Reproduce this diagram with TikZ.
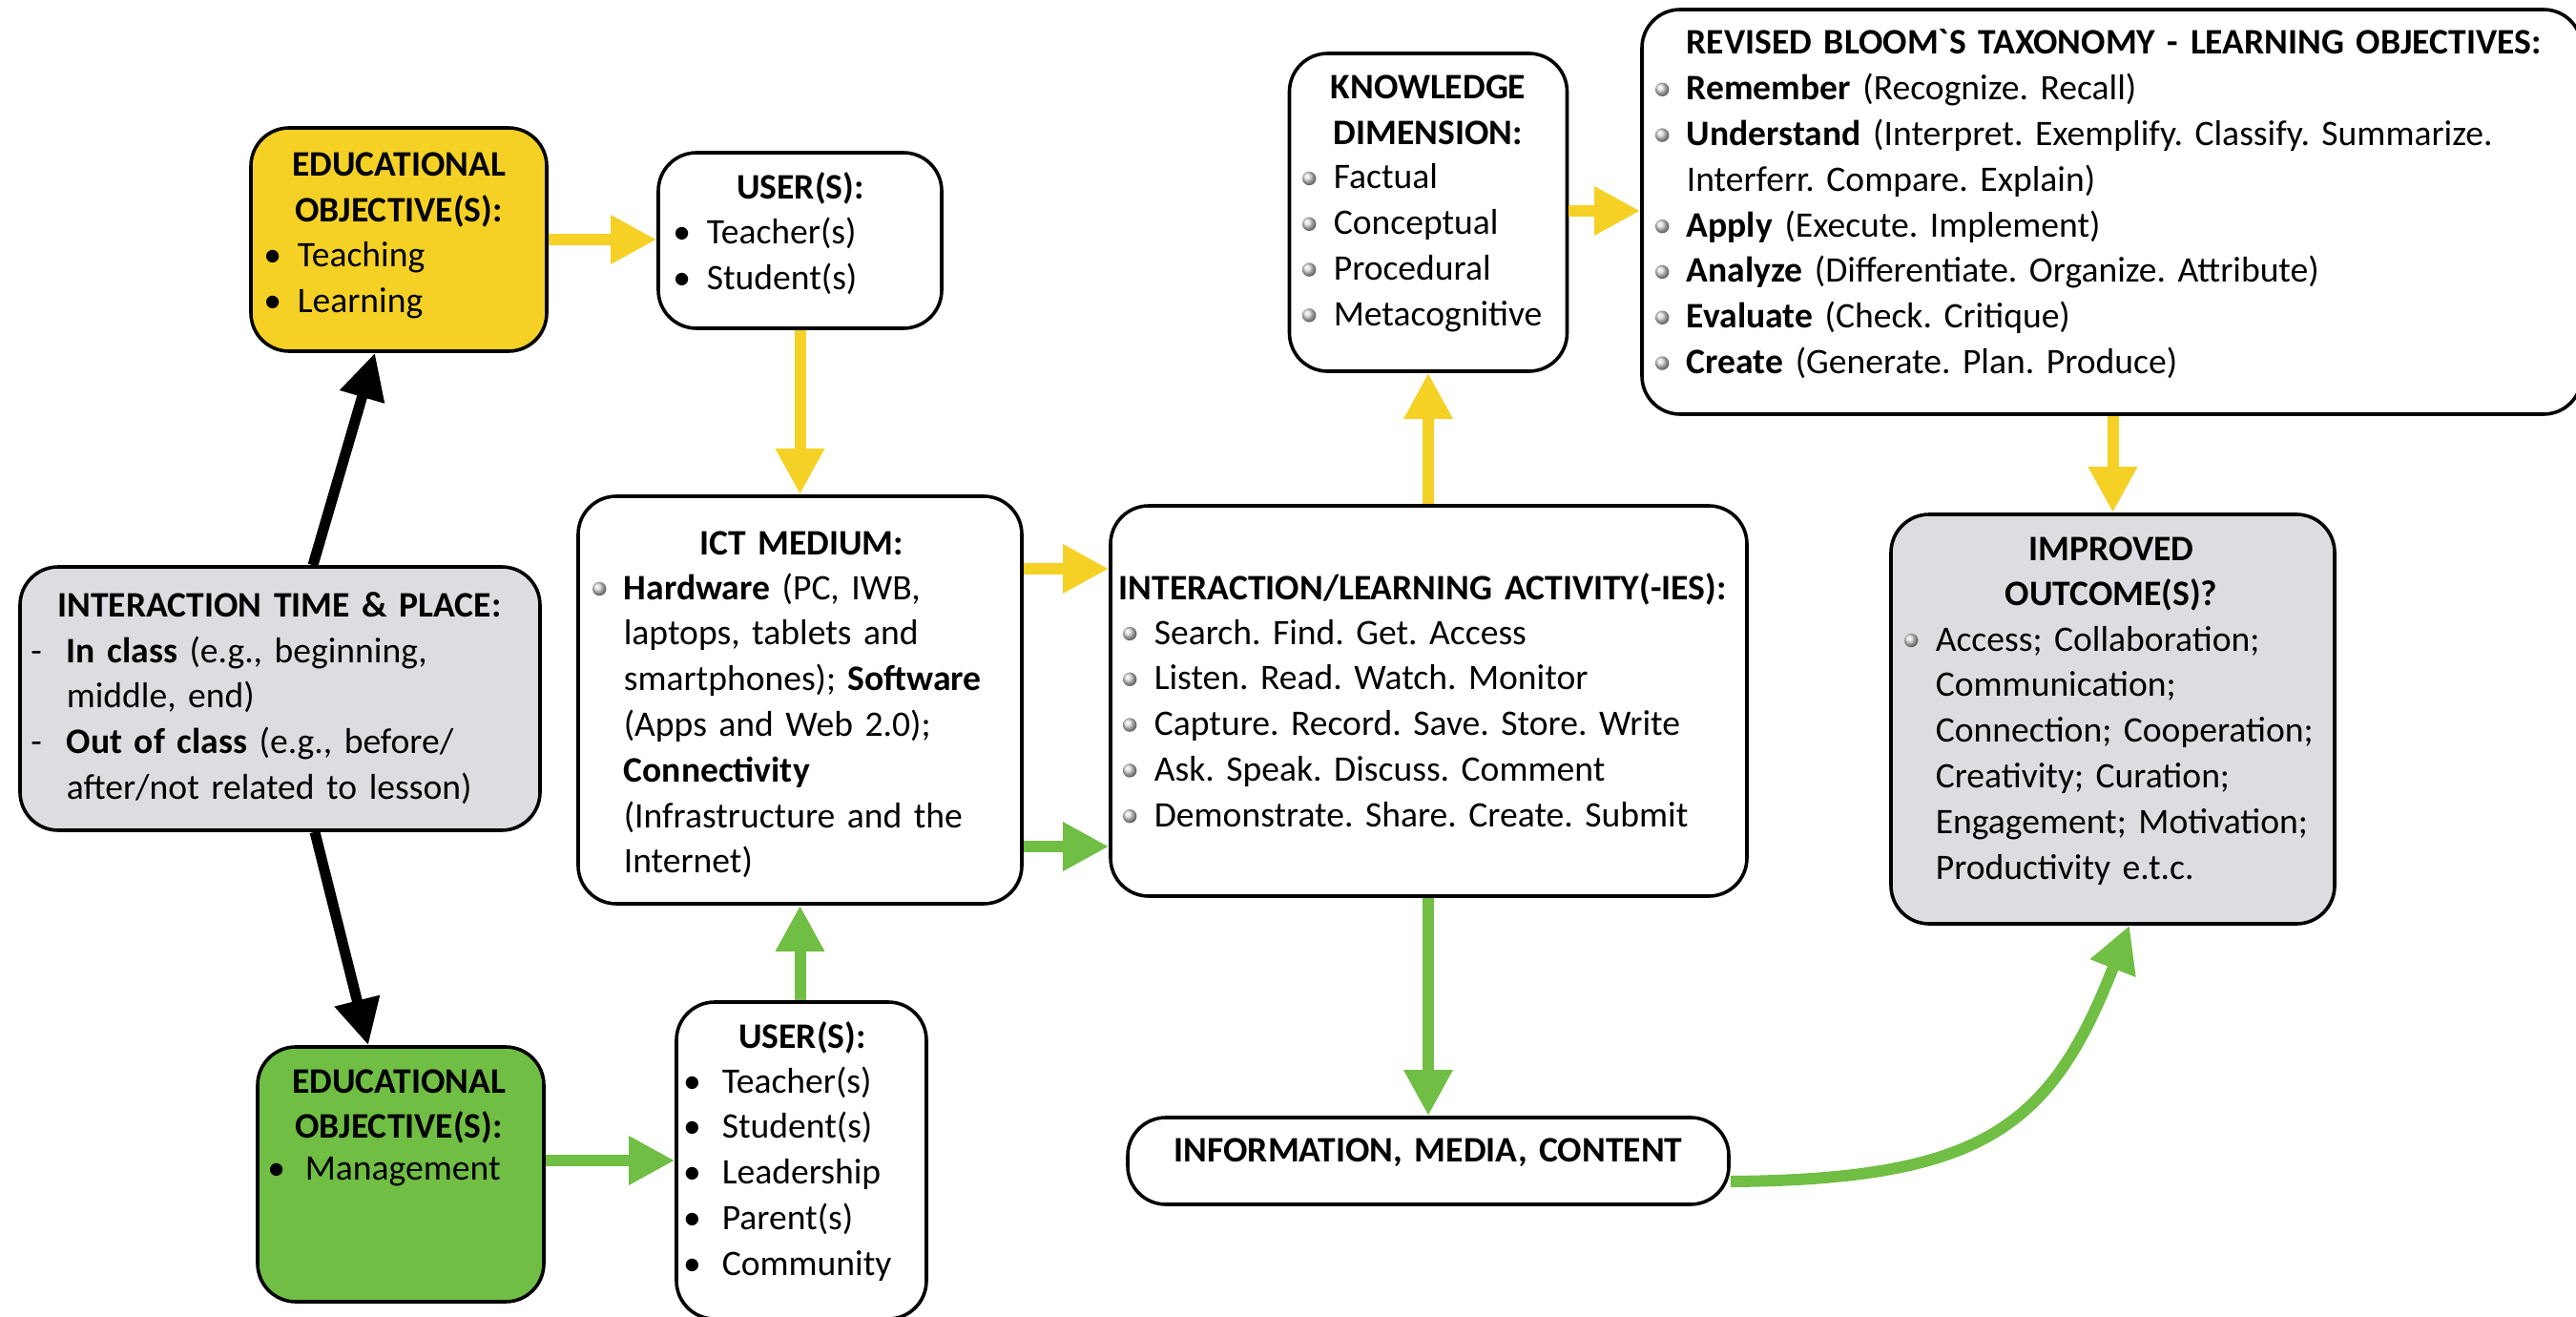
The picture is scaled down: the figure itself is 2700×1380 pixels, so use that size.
\documentclass[tikz,border=0pt]{standalone}
\usepackage{fontspec}
\setmainfont{Carlito}
\newfontfamily\rawfont{Carlito}
\usetikzlibrary{arrows.meta,calc}
\definecolor{ylw}{RGB}{245,209,38}
\definecolor{grn}{RGB}{112,190,68}
\definecolor{gry}{RGB}{220,221,224}
\newcommand\bl[1][4.2pt]{\leavevmode\llap{\textbullet\hspace{#1}}}
\newcommand\gbl{\leavevmode\llap{\raisebox{0.95pt}{\tikz[x=1cm,y=1cm]\shade[ball color=black!14] (0,0) circle (1.8pt);}\hspace{4.6pt}}}
\newcommand\dsh{\leavevmode\llap{-\hspace{6.5pt}}}
\frenchspacing
\begin{document}
\begin{tikzpicture}[x=0.25pt,y=-0.25pt,
 font=\fontsize{9.4}{11.95}\selectfont\frenchspacing,
 box/.style={draw=black, line width=0.9pt, rounded corners=10pt, inner sep=0pt},
 hd/.style={anchor=base, inner sep=0pt, align=center, text width=#1, font=\fontsize{9.4}{11.95}\selectfont\bfseries},
 hd/.default=150pt,
 lst/.style={anchor=base west, inner sep=0pt, align=left, text width=260pt, font=\fontsize{9.4}{11.95}\selectfont\frenchspacing},
 yarr/.style={draw=ylw, line width=3pt, -{Triangle[width=12pt,length=12pt]}},
 garr/.style={draw=grn, line width=3pt, -{Triangle[width=12pt,length=12pt]}},
 karr/.style={draw=black, line width=2.75pt, -{Triangle[width=11.5pt,length=12pt]}}]
\clip (0,0) rectangle (2700,1380);
\fill[white] (0,0) rectangle (2700,1380);

% boxes
\node[box, fill=ylw, minimum width=77.5pt, minimum height=58.5pt] (eduY) at (418,251) {};
\node[box, minimum width=74.25pt, minimum height=46pt] (userT) at (838.5,252) {};
\node[box, fill=gry, minimum width=136.25pt, minimum height=69pt] (itp) at (293.5,732) {};
\node[box, fill=grn, minimum width=75pt, minimum height=66.75pt] (eduG) at (420,1230.5) {};
\node[box, minimum width=65.5pt, minimum height=83pt] (userB) at (840,1216) {};
\node[box, minimum width=116.25pt, minimum height=106.75pt] (ict) at (838.5,733.5) {};
\node[box, minimum width=166.75pt, minimum height=102.25pt] (ila) at (1497.5,734.5) {};
\node[box, minimum width=72.75pt, minimum height=83.25pt] (know) at (1497,222.5) {};
\node[box, minimum width=246.25pt, minimum height=106pt] (bloom) at (2213.5,222) {};
\node[box, fill=gry, minimum width=116.25pt, minimum height=107.25pt] (imp) at (2214.5,753.5) {};
\node[box, minimum width=157.5pt, minimum height=22.75pt] (info) at (1497,1216.5) {};

% texts
\node[hd=70pt] (eduYh) at (418,185) {EDUCATIONAL\\OBJECTIVE(S):};
\node[lst] (eduYl) at (311,280) {\bl Teaching\\\bl Learning};
\node[hd=70pt] (userTh) at (839,209) {USER(S):};
\node[lst] (userTl) at (740,256) {\bl Teacher(s)\\\bl Student(s)};
\node[hd=130pt] (itph) at (293,646) {INTERACTION TIME \& PLACE:};
\node[lst] (itpl) at (69,694) {\dsh\textbf{In class} (e.g., beginning,\\middle, end)\\\dsh\textbf{Out of class} (e.g., before/\\after/not related to lesson)};
\node[hd=110pt] (icth) at (840,581) {ICT MEDIUM:};
\node[lst] (ictl) at (653,628) {\gbl\textbf{Hardware} (PC, IWB,\\laptops, tablets and\\smartphones); \textbf{Software}\\(Apps and Web 2.0);\\\textbf{Connectivity}\\(Infrastructure and the\\Internet)};
\node[hd=70pt] (eduGh) at (418,1145) {EDUCATIONAL\\OBJECTIVE(S):};
\node[lst] (eduGl) at (319,1236) {\bl[5.2pt]Management};
\node[hd=60pt] (userBh) at (841,1098) {USER(S):};
\node[lst] (userBl) at (756,1145) {\bl[5.5pt]Teacher(s)\\\bl[5.5pt]Student(s)\\\bl[5.5pt]Leadership\\\bl[5.5pt]Parent(s)\\\bl[5.5pt]Community};
\node[hd=70pt] (knowh) at (1497,103.5) {KNOWLEDGE\\DIMENSION:};
\node[lst] (knowl) at (1397,198) {\gbl Factual\\\gbl Conceptual\\\gbl Procedural\\\gbl Metacognitive};
\node[lst] (bloomt) at (1767,57) {\textbf{REVISED BLOOM{\rawfont`}S TAXONOMY - LEARNING OBJECTIVES:}\\
\gbl\textbf{Remember} (Recognize. Recall)\\
\gbl\textbf{Understand} (Interpret. Exemplify. Classify. Summarize.\\
Interferr. Compare. Explain)\\
\gbl\textbf{Apply} (Execute. Implement)\\
\gbl\textbf{Analyze} (Differentiate. Organize. Attribute)\\
\gbl\textbf{Evaluate} (Check. Critique)\\
\gbl\textbf{Create} (Generate. Plan. Produce)};
\node[lst] (ilah) at (1172,628) {\textbf{INTERACTION/LEARNING ACTIVITY(-IES):}};
\node[lst] (ilal) at (1209,675) {\gbl Search. Find. Get. Access\\\gbl Listen. Read. Watch. Monitor\\\gbl Capture. Record. Save. Store. Write\\\gbl Ask. Speak. Discuss. Comment\\\gbl Demonstrate. Share. Create. Submit};
\node[hd=110pt] (imph) at (2213,587) {IMPROVED\\OUTCOME(S)?};
\node[lst] (impl) at (2028,682) {\gbl Access; Collaboration;\\Communication;\\Connection; Cooperation;\\Creativity; Curation;\\Engagement; Motivation;\\Productivity e.t.c.};
\node[hd=150pt] (infoh) at (1497,1217) {INFORMATION, MEDIA, CONTENT};

% connectors
\draw[yarr] (eduY.east) -- (userT.west |- eduY.east);
\draw[yarr] (userT.south) -- (ict.north);
\draw[yarr] (ict.east |- 0,596) -- (ila.west |- 0,596);
\draw[garr] (ict.east |- 0,887) -- (ila.west |- 0,887);
\draw[garr] (ict.south |- userB.north) -- (ict.south);
\draw[garr] (eduG.east |- 0,1216) -- (userB.west |- 0,1216);
\draw[karr] (itp.north -| 328,0) -- (eduY.south -| 393,0);
\draw[karr] (itp.south -| 330,0) -- (eduG.north -| 386,0);
\draw[yarr] (know.south |- ila.north) -- (know.south);
\draw[yarr] (know.east |- 0,221) -- (bloom.west |- 0,221);
\draw[yarr] (imp.north |- bloom.south) -- (imp.north);
\draw[garr] (info.north |- ila.south) -- (info.north);
\draw[garr] (info.east |- 0,1238) .. controls (2080,1236) and (2150,1180) .. (imp.south -| 2232,0);
\end{tikzpicture}
\end{document}
